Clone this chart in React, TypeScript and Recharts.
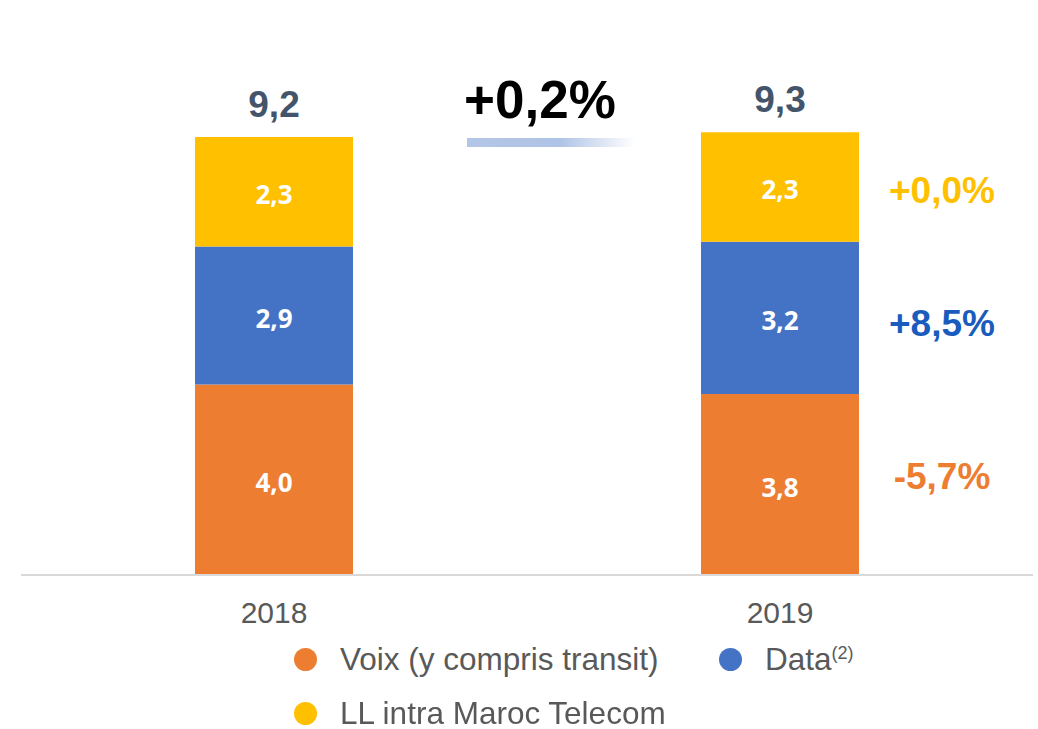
import { BarChart, Bar, XAxis, YAxis, LabelList } from "recharts"

const years = ["2018", "2019"]
const voix = [4.0, 3.8]
const data = [2.9, 3.2]
const ll = [2.3, 2.3]
// growth 2018 -> 2019 per segment, shown to the right of the 2019 bar
const growthVoix = "-5,7%"
const growthData = "+8,5%"
const growthLl = "+0,0%"
const totalGrowth = "+0,2%"

const rows = years.map((year, i) => ({
  year,
  voix: voix[i],
  data: data[i],
  ll: ll[i],
  total: Math.round((voix[i] + data[i] + ll[i]) * 10) / 10,
}))

const fmt = (v: number) => v.toFixed(1).replace(".", ",")

const ORANGE = "#ED7D31"
const BLUE = "#4472C4"
const YELLOW = "#FFC000"
const FONT = "'Liberation Sans', Arial, sans-serif"

const InnerLabel = (props: any) => {
  const { x, y, width, height, value } = props
  return (
    <text
      x={x + width / 2}
      y={y + height / 2 + 2}
      textAnchor="middle"
      dominantBaseline="central"
      fill="#fff"
      fontFamily="'Open Sans', sans-serif"
      fontWeight={700}
      fontSize={26}
    >
      {fmt(value)}
    </text>
  )
}

// nudge is a small vertical offset so labels sit where the original slide put them
const growthLabel = (text: string, color: string, nudge: number) => (props: any) => {
  const { x, y, width, height, index } = props
  if (index !== 1) return null
  return (
    <text
      x={x + width + 83}
      y={y + height / 2 + nudge}
      textAnchor="middle"
      dominantBaseline="central"
      fill={color}
      fontFamily={FONT}
      fontWeight={700}
      fontSize={37}
    >
      {text}
    </text>
  )
}

const TotalLabel = (props: any) => {
  const { x, y, width, index } = props
  return (
    <text
      x={x + width / 2}
      y={y - 33}
      textAnchor="middle"
      dominantBaseline="central"
      fill="#44546A"
      fontFamily={FONT}
      fontWeight={700}
      fontSize={37}
    >
      {fmt(rows[index].total)}
    </text>
  )
}

const legendItems = [
  { color: ORANGE, left: 294, top: 647, label: <>Voix (y compris transit)</> },
  { color: BLUE, left: 719, top: 647, label: <>Data<sup style={{ fontSize: 18 }}>(2)</sup></> },
  { color: YELLOW, left: 294, top: 701, label: <>LL intra Maroc Telecom</> },
]

export default function App() {
  return (
    <div style={{ position: "fixed", left: 0, top: 0, width: 1038, height: 729, background: "#fff", fontFamily: FONT }}>
      <BarChart
        width={1038}
        height={729}
        data={rows}
        margin={{ top: 99, right: 5, left: 21, bottom: 124 }}
        barCategoryGap={0}
      >
        <XAxis
          dataKey="year"
          height={30}
          axisLine={{ stroke: "#D9D9D9", strokeWidth: 2 }}
          tickLine={false}
          tick={{ fill: "#595959", fontSize: 30, fontFamily: FONT, dy: 19 }}
        />
        <YAxis hide domain={[0, 10]} />
        <Bar dataKey="voix" stackId="a" fill={ORANGE} barSize={158} isAnimationActive={false}>
          <LabelList dataKey="voix" content={<InnerLabel />} />
          <LabelList dataKey="voix" content={growthLabel(growthVoix, ORANGE, -8)} />
        </Bar>
        <Bar dataKey="data" stackId="a" fill={BLUE} barSize={158} isAnimationActive={false}>
          <LabelList dataKey="data" content={<InnerLabel />} />
          <LabelList dataKey="data" content={growthLabel(growthData, "#1A5BBE", 6)} />
        </Bar>
        <Bar dataKey="ll" stackId="a" fill={YELLOW} barSize={158} isAnimationActive={false}>
          <LabelList dataKey="ll" content={<InnerLabel />} />
          <LabelList dataKey="ll" content={growthLabel(growthLl, YELLOW, 3)} />
          <LabelList dataKey="ll" content={<TotalLabel />} />
        </Bar>
      </BarChart>
      <div
        style={{
          position: "absolute",
          left: 400,
          top: 69,
          width: 280,
          textAlign: "center",
          fontWeight: 700,
          fontSize: 53,
          lineHeight: "62px",
          color: "#000",
        }}
      >
        {totalGrowth}
      </div>
      <div
        style={{
          position: "absolute",
          left: 467,
          top: 138,
          width: 168,
          height: 9,
          background: "linear-gradient(to right, #B4C6E7 0%, #AFC3E6 55%, #ffffff 100%)",
        }}
      />
      {legendItems.map((it, i) => (
        <div key={i} style={{ position: "absolute", left: it.left, top: it.top, height: 24, display: "flex", alignItems: "center" }}>
          <span style={{ width: 23, height: 23, borderRadius: "50%", background: it.color, display: "inline-block", flexShrink: 0 }} />
          <span style={{ marginLeft: 23, fontSize: 31.5, color: "#595959", whiteSpace: "nowrap" }}>{it.label}</span>
        </div>
      ))}
    </div>
  )
}
